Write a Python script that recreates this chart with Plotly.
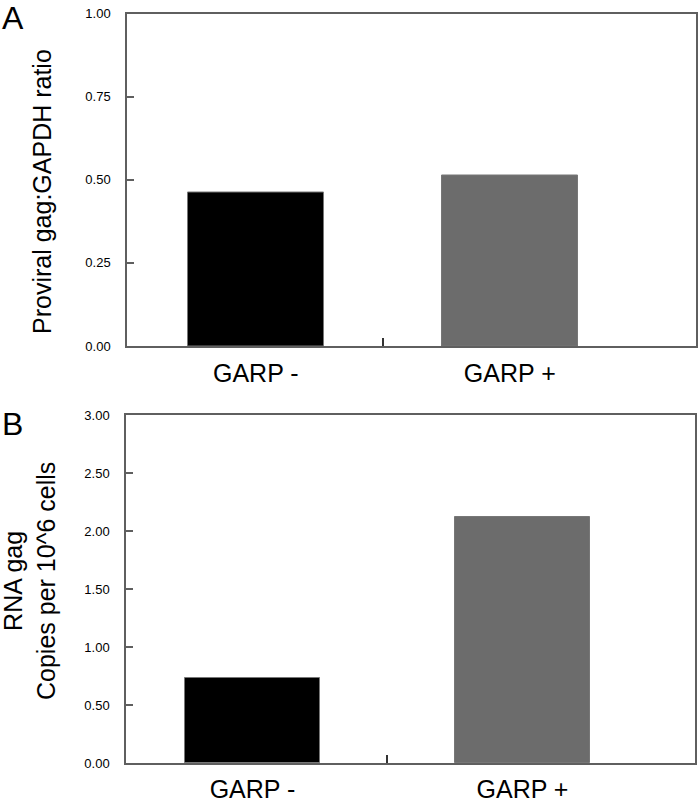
import plotly.graph_objects as go

categories = ["GARP -", "GARP +"]
panel_a_values = [0.462, 0.513]
panel_b_values = [0.733, 2.12]
panel_a_ticks = [0, 0.25, 0.5, 0.75, 1.0]
panel_a_ticktext = ["0.00", "0.25", "0.50", "0.75", "1.00"]
panel_b_ticks = [0, 0.5, 1.0, 1.5, 2.0, 2.5, 3.0]
panel_b_ticktext = ["0.00", "0.50", "1.00", "1.50", "2.00", "2.50", "3.00"]
bar_colors = ["#000000", "#6c6c6c"]

W, H = 700, 804
FONT = "Liberation Sans, Arial, sans-serif"
AXC = "#5f5f5f"

fig = go.Figure()
xpos = list(range(len(categories)))

fig.add_trace(go.Bar(x=xpos, y=panel_a_values, width=0.536,
                     marker=dict(color=bar_colors, line=dict(color="#777777", width=1)),
                     xaxis="x", yaxis="y", showlegend=False, hoverinfo="skip"))
fig.add_trace(go.Bar(x=xpos, y=panel_b_values, width=0.5,
                     marker=dict(color=bar_colors, line=dict(color="#777777", width=1)),
                     xaxis="x2", yaxis="y2", showlegend=False, hoverinfo="skip"))

def xdom(l, r):
    return [l / W, r / W]

def ydom(top, bottom):
    return [1 - bottom / H, 1 - top / H]

xcommon = dict(tickvals=xpos, ticktext=categories, ticks="", showgrid=False, zeroline=False,
               showline=True, linecolor=AXC, linewidth=1.5, mirror=True, automargin=False,
               tickfont=dict(family=FONT, size=25, color="#000"),
               minor=dict(tickvals=[0.5], ticks="inside", ticklen=8, tickcolor="#333", tickwidth=1.5))
ycommon = dict(ticks="inside", ticklen=7, tickcolor=AXC, tickwidth=1.5, showgrid=False, zeroline=False,
               showline=True, linecolor=AXC, linewidth=1.5, mirror=True, automargin=False,
               tickfont=dict(family=FONT, size=13, color="#000"), ticklabelstandoff=12)

fig.update_layout(
    width=W, height=H, margin=dict(l=0, r=0, t=0, b=0, autoexpand=False),
    paper_bgcolor="white", plot_bgcolor="white",
    xaxis=dict(domain=xdom(127, 696), range=[-0.507, 1.733], anchor="y",
               ticklabelstandoff=4, **xcommon),
    yaxis=dict(domain=ydom(13.5, 346), range=[0, 1], anchor="x",
               tickvals=panel_a_ticks, ticktext=panel_a_ticktext, **ycommon),
    xaxis2=dict(domain=xdom(126, 695), range=[-0.4685, 1.639], anchor="y2",
                ticklabelstandoff=3, **xcommon),
    yaxis2=dict(domain=ydom(415, 763), range=[0, 3], anchor="x2",
                tickvals=panel_b_ticks, ticktext=panel_b_ticktext, **ycommon),
    bargap=0,
)

fig.add_annotation(text="Proviral gag:GAPDH ratio", textangle=-90, x=42 / W, y=1 - 192 / H,
                   xref="paper", yref="paper", showarrow=False,
                   font=dict(family=FONT, size=25, color="#000"), xanchor="center", yanchor="middle")
fig.add_annotation(text="RNA gag<br>Copies per 10^6 cells", textangle=-90, x=29 / W, y=1 - 581 / H,
                   xref="paper", yref="paper", showarrow=False,
                   font=dict(family=FONT, size=25, color="#000"), xanchor="center", yanchor="middle")
fig.add_annotation(text="A", x=13 / W, y=1 - 18 / H, xref="paper", yref="paper", showarrow=False,
                   font=dict(family=FONT, size=32, color="#000"), xanchor="center", yanchor="middle")
fig.add_annotation(text="B", x=12 / W, y=1 - 424 / H, xref="paper", yref="paper", showarrow=False,
                   font=dict(family=FONT, size=32, color="#000"), xanchor="center", yanchor="middle")

fig.write_html("out.html", config={"displayModeBar": False},
               post_script="document.body.style.margin='0';document.body.style.overflow='hidden';")
